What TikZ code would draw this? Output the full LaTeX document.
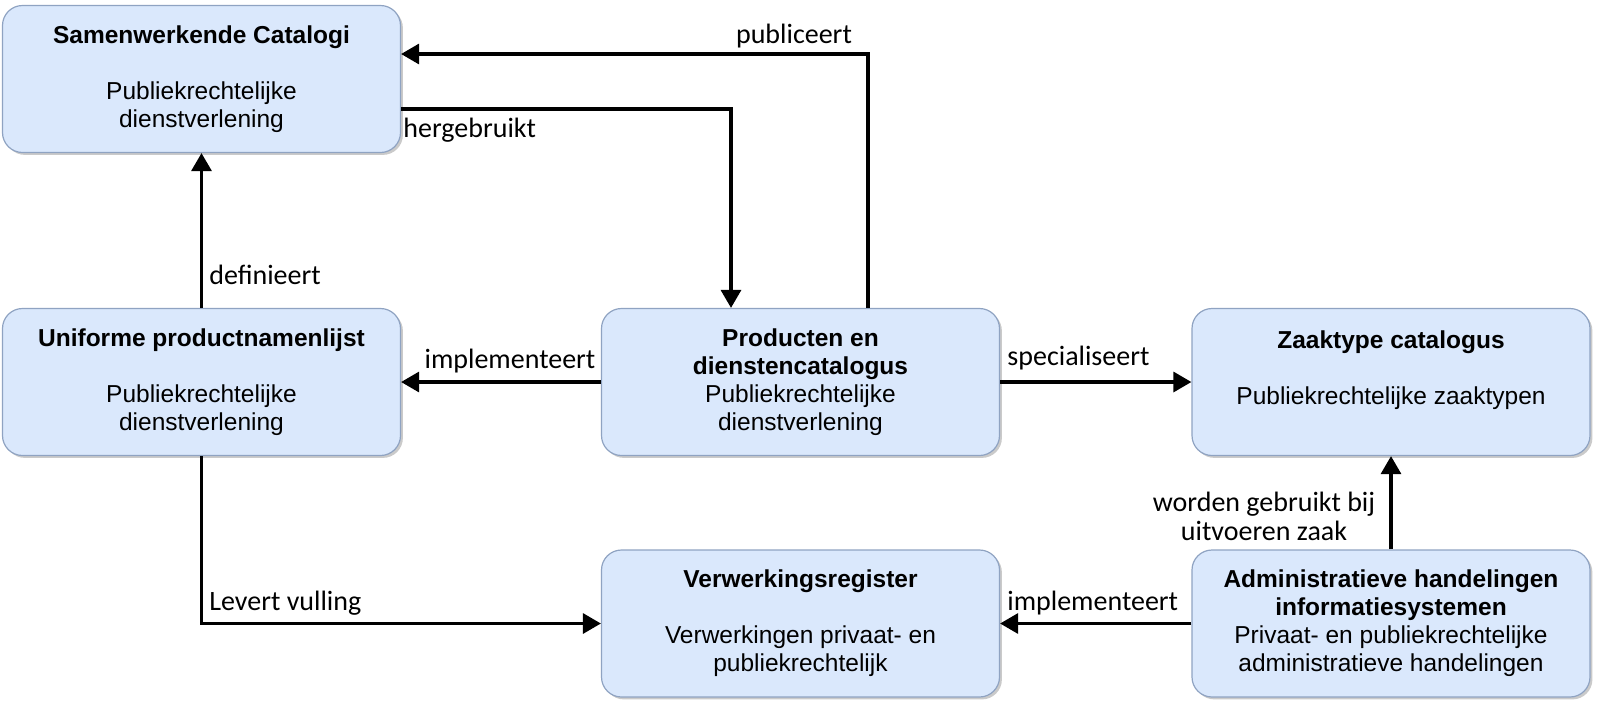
\documentclass[tikz,border=0pt]{standalone}
\usepackage{fontspec}
\setmainfont{Liberation Sans}
\newfontfamily\calfont{Carlito}
\usetikzlibrary{positioning,arrows.meta,shadows}
\definecolor{boxfill}{HTML}{DAE8FC}
\definecolor{boxline}{HTML}{8FA3C2}
\tikzset{%
block/.style={draw=boxline,fill=boxfill,rounded corners=10pt,line width=0.6pt,minimum width=199pt,minimum height=73.5pt,align=center,inner sep=2pt,font=\fontsize{12.25}{14}\selectfont,drop shadow={shadow xshift=1.2pt,shadow yshift=-1.2pt,opacity=0.35,fill=black!60}},
conn/.style={line width=1.6pt,-{Triangle[length=9pt,width=10pt]}},
lbl/.style={font=\calfont\fontsize{14}{14.5}\selectfont,inner sep=0pt,align=center}
}
\begin{document}
\begin{tikzpicture}[x=0.5pt,y=-0.5pt]
  \useasboundingbox (0,0) rectangle (1597,708);

  \node[block] (sc) at (201.5,79) {\textbf{Samenwerkende Catalogi}\\[14pt]Publiekrechtelijke\\dienstverlening};
  \node[block] (upl) at (201.5,382) {\textbf{Uniforme productnamenlijst}\\[14pt]Publiekrechtelijke\\dienstverlening};
  \node[block] (pdc) at (800.5,382) {\textbf{Producten en}\\\textbf{dienstencatalogus}\\Publiekrechtelijke\\dienstverlening};
  \node[block] (zc) at (1391,382) {\textbf{Zaaktype catalogus}\\[14pt]Publiekrechtelijke zaaktypen\\\mbox{}};
  \node[block] (vr) at (800.5,623.5) {\textbf{Verwerkingsregister}\\[14pt]Verwerkingen privaat- en\\publiekrechtelijk};
  \node[block] (ah) at (1391,623.5) {\textbf{Administratieve handelingen}\\\textbf{informatiesystemen}\\Privaat- en publiekrechtelijke\\administratieve handelingen};

  \draw[conn] ([xshift=33.75pt]pdc.north) |- ([yshift=12.5pt]sc.east);
  \draw[conn] ([yshift=-15pt]sc.east) -| ([xshift=-34.75pt]pdc.north);
  \draw[conn] (upl.north) -- (sc.south);
  \draw[conn] (pdc.west) -- (upl.east);
  \draw[conn] (pdc.east) -- (zc.west);
  \draw[conn] (upl.south) |- (vr.west);
  \draw[conn] (ah.west) -- (vr.east);
  \draw[conn] (ah.north) -- (zc.south);

  \node[lbl] (lpub) at (794,36) {publiceert};
  \node[lbl,anchor=west] (lherg) at (403,130) {hergebruikt};
  \node[lbl,anchor=west] (ldef) at (209,275) {definieert};
  \node[lbl] (limpa) at (510,361) {implementeert};
  \node[lbl,anchor=west] (lspec) at (1007,358) {specialiseert};
  \node[lbl,anchor=west] (llev) at (209,603) {Levert vulling};
  \node[lbl,anchor=west] (limpb) at (1007,603) {implementeert};
  \node[lbl] (lword) at (1264,516) {worden gebruikt bij\\uitvoeren zaak};
\end{tikzpicture}
\end{document}
